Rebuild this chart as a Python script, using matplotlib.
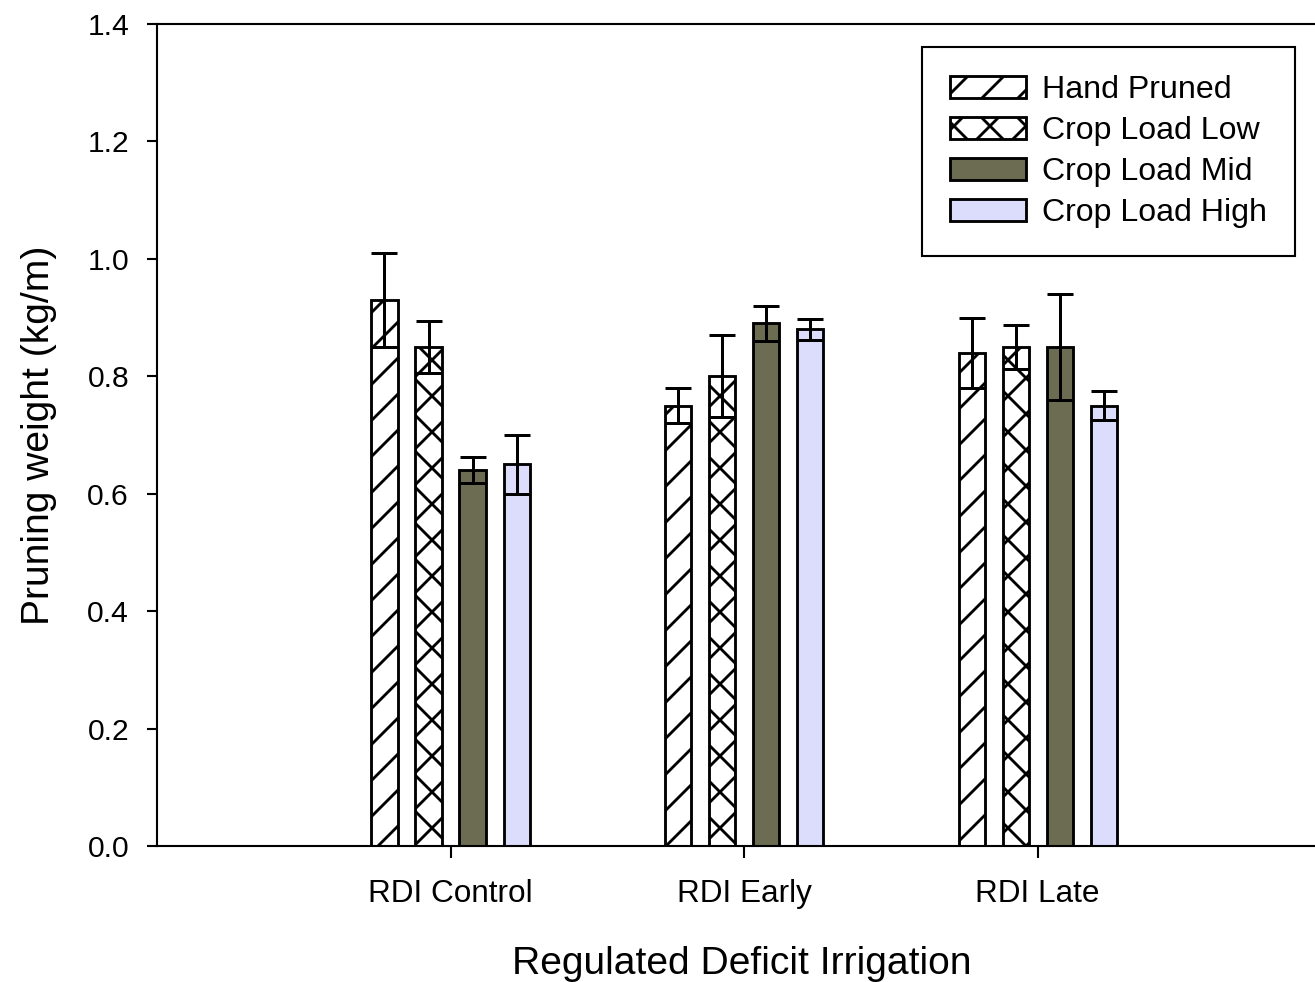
import matplotlib
matplotlib.use("Agg")
import matplotlib.pyplot as plt
import numpy as np

# data
groups = ["RDI Control", "RDI Early", "RDI Late"]
treatments = ["Hand Pruned", "Crop Load Low", "Crop Load Mid", "Crop Load High"]

hand_pruned = [0.93, 0.75, 0.84]
hand_pruned_err = [0.08, 0.03, 0.06]
crop_low = [0.85, 0.80, 0.85]
crop_low_err = [0.045, 0.07, 0.037]
crop_mid = [0.64, 0.89, 0.85]
crop_mid_err = [0.022, 0.03, 0.09]
crop_high = [0.65, 0.88, 0.75]
crop_high_err = [0.05, 0.018, 0.025]

yticks = [0.0, 0.2, 0.4, 0.6, 0.8, 1.0, 1.2, 1.4]

DPI = 216
plt.rcParams["font.family"] = ["Liberation Sans", "DejaVu Sans"]
plt.rcParams["hatch.linewidth"] = 0.95

fig = plt.figure(figsize=(1315 / DPI, 982 / DPI), dpi=DPI)
ax = fig.add_axes([157 / 1315, 136 / 982, 1 - 157 / 1315, 822 / 982])

x = np.arange(len(groups))
width = 0.089
step = 0.15
series = [
    (hand_pruned, hand_pruned_err, "white", "//"),
    (crop_low, crop_low_err, "white", "xx"),
    (crop_mid, crop_mid_err, "#6c6c52", None),
    (crop_high, crop_high_err, "#dcdcfc", None),
]

for i, (vals, errs, col, hatch) in enumerate(series):
    pos = x + (i - 1.5) * step
    ax.bar(pos, vals, width, color=col, edgecolor="black", linewidth=0.95,
           hatch=hatch, label=treatments[i], zorder=2)
    ax.errorbar(pos, vals, yerr=errs, fmt="none", ecolor="black",
                elinewidth=1.0, capsize=4.3, capthick=1.0, zorder=3)

ax.set_xlim(-1, 2.945)
ax.set_ylim(0, 1.4)
ax.set_yticks(yticks)
ax.set_yticklabels(["%.1f" % t for t in yticks])
ax.set_xticks(x)
ax.set_xticklabels(groups)

for s in ["left", "bottom", "top"]:
    ax.spines[s].set_linewidth(0.7)
ax.spines["right"].set_visible(False)

ax.tick_params(axis="y", direction="out", length=3.3, width=0.7, pad=6, labelsize=10)
ax.tick_params(axis="x", direction="out", length=4, width=0.7, pad=7, labelsize=10.5)

ax.set_ylabel("Pruning weight (kg/m)", fontsize=13, labelpad=10)
ax.set_xlabel("Regulated Deficit Irrigation", fontsize=13)
ax.xaxis.set_label_coords(0.505, -0.122)

leg = ax.legend(loc="upper right", bbox_to_anchor=(0.9827, 0.972),
                borderaxespad=0, fontsize=10.7, fancybox=False,
                edgecolor="black", framealpha=1, handlelength=2.35,
                handleheight=0.7, handletextpad=0.5, labelspacing=0.34,
                borderpad=0.88)
leg.get_frame().set_linewidth(0.7)

fig.savefig("out.png", dpi=DPI)
